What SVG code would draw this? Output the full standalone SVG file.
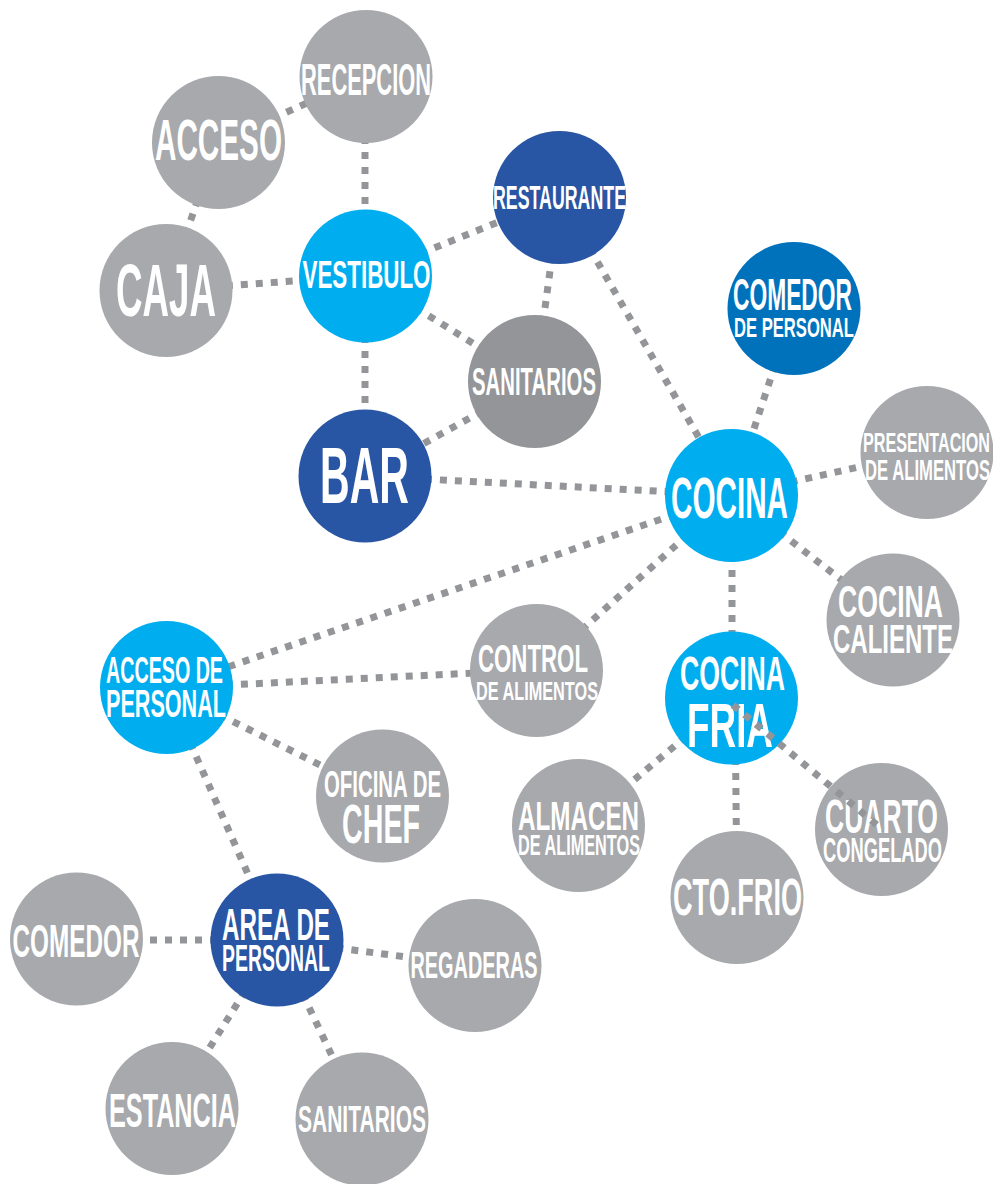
<svg xmlns="http://www.w3.org/2000/svg" width="993" height="1184" viewBox="0 0 993 1184">
<style>
.c{stroke:#939598;stroke-width:7;stroke-dasharray:7 8;fill:none}
.g{fill:#A7A9AC}
.g2{fill:#939598}
.lb{fill:#00AEEF}
.db{fill:#2855A4}
.mb{fill:#0072BC}
text{fill:#fff;font-family:"Liberation Sans Narrow","Liberation Sans",Arial,sans-serif;font-weight:bold;text-anchor:middle}
</style>
<rect width="993" height="1184" fill="#fff"/>
<g id="connectors">
<line class="c" x1="218" y1="143" x2="365" y2="77"/>
<line class="c" x1="218" y1="143" x2="166" y2="290"/>
<line class="c" x1="365" y1="77" x2="365" y2="276"/>
<line class="c" x1="166" y1="290" x2="365" y2="276"/>
<line class="c" x1="365" y1="276" x2="560" y2="197"/>
<line class="c" x1="365" y1="276" x2="535" y2="382"/>
<line class="c" x1="365" y1="276" x2="365" y2="476"/>
<line class="c" x1="560" y1="197" x2="535" y2="382"/>
<line class="c" x1="535" y1="382" x2="365" y2="476"/>
<line class="c" x1="560" y1="197" x2="732" y2="495"/>
<line class="c" x1="365" y1="476" x2="732" y2="495"/>
<line class="c" x1="794" y1="308" x2="732" y2="495"/>
<line class="c" x1="732" y1="495" x2="927" y2="452"/>
<line class="c" x1="732" y1="495" x2="893" y2="620"/>
<line class="c" x1="732" y1="495" x2="732" y2="698"/>
<line class="c" x1="732" y1="495" x2="537" y2="670"/>
<line class="c" x1="732" y1="495" x2="166" y2="688"/>
<line class="c" x1="166" y1="688" x2="537" y2="670"/>
<line class="c" x1="166" y1="688" x2="382" y2="796"/>
<line class="c" x1="166" y1="688" x2="277" y2="940"/>
<line class="c" x1="732" y1="698" x2="579" y2="826"/>
<line class="c" x1="735" y1="698" x2="737" y2="897"/>
<line class="c" x1="277" y1="940" x2="77" y2="940"/>
<line class="c" x1="277" y1="940" x2="475" y2="966"/>
<line class="c" x1="277" y1="940" x2="172" y2="1108"/>
<line class="c" x1="277" y1="940" x2="362" y2="1119"/>
</g>
<g id="recepcion"><circle class="g" cx="366" cy="76.5" r="66.5"/><text x="366" y="95" font-size="44" textLength="130" lengthAdjust="spacingAndGlyphs">RECEPCION</text></g>
<g id="acceso"><circle class="g" cx="218.5" cy="142.5" r="66.5"/><text x="218.5" y="160" font-size="58" textLength="127" lengthAdjust="spacingAndGlyphs">ACCESO</text></g>
<g id="caja"><circle class="g" cx="166" cy="290.5" r="66.5"/><text x="166" y="316" font-size="74" textLength="100" lengthAdjust="spacingAndGlyphs">CAJA</text></g>
<g id="vestibulo"><circle class="lb" cx="365.5" cy="276" r="66.5"/><text x="366.5" y="288" font-size="38.5" textLength="128" lengthAdjust="spacingAndGlyphs">VESTIBULO</text></g>
<g id="restaurante"><circle class="db" cx="559.5" cy="197.5" r="66.5"/><text x="559.5" y="209" font-size="33" textLength="133" lengthAdjust="spacingAndGlyphs">RESTAURANTE</text></g>
<g id="sanitarios-1"><circle class="g2" cx="534.5" cy="381.5" r="66.5"/><text x="534" y="395" font-size="38.5" textLength="124" lengthAdjust="spacingAndGlyphs">SANITARIOS</text></g>
<g id="bar"><circle class="db" cx="365" cy="476" r="66.5"/><text x="364.5" y="503" font-size="79" textLength="89" lengthAdjust="spacingAndGlyphs">BAR</text></g>
<g id="comedor-personal"><circle class="mb" cx="794" cy="308.5" r="66.5"/><text x="792.5" y="310" font-size="44" textLength="119" lengthAdjust="spacingAndGlyphs">COMEDOR</text><text x="794" y="337" font-size="28" textLength="120" lengthAdjust="spacingAndGlyphs">DE PERSONAL</text></g>
<g id="presentacion"><circle class="g" cx="927" cy="452.5" r="66.5"/><text x="926.5" y="452" font-size="27.5" textLength="127" lengthAdjust="spacingAndGlyphs">PRESENTACION</text><text x="927.5" y="480" font-size="29" textLength="125" lengthAdjust="spacingAndGlyphs">DE ALIMENTOS</text></g>
<g id="cocina"><circle class="lb" cx="731.5" cy="495.5" r="66.5"/><text x="729.5" y="518" font-size="58" textLength="117" lengthAdjust="spacingAndGlyphs">COCINA</text></g>
<g id="cocina-caliente"><circle class="g" cx="893" cy="620" r="66.5"/><text x="890.5" y="617" font-size="45" textLength="105" lengthAdjust="spacingAndGlyphs">COCINA</text><text x="893" y="653" font-size="40.5" textLength="120" lengthAdjust="spacingAndGlyphs">CALIENTE</text></g>
<g id="control"><circle class="g" cx="536.5" cy="670.5" r="66.5"/><text x="533" y="672" font-size="38.5" textLength="110" lengthAdjust="spacingAndGlyphs">CONTROL</text><text x="537" y="700" font-size="26" textLength="122" lengthAdjust="spacingAndGlyphs">DE ALIMENTOS</text></g>
<g id="acceso-personal"><circle class="lb" cx="166.5" cy="687.5" r="66.5"/><text x="164.5" y="683" font-size="36.5" textLength="117" lengthAdjust="spacingAndGlyphs">ACCESO DE</text><text x="166" y="717" font-size="38.5" textLength="120" lengthAdjust="spacingAndGlyphs">PERSONAL</text></g>
<g id="oficina-chef"><circle class="g" cx="382.5" cy="796" r="66.5"/><text x="382.5" y="797" font-size="37.5" textLength="117" lengthAdjust="spacingAndGlyphs">OFICINA DE</text><text x="381" y="843" font-size="55" textLength="78" lengthAdjust="spacingAndGlyphs">CHEF</text></g>
<g id="cocina-fria"><circle class="lb" cx="731.5" cy="698" r="66.5"/><text x="732.5" y="690" font-size="48" textLength="105" lengthAdjust="spacingAndGlyphs">COCINA</text><text x="730" y="747" font-size="62.5" textLength="86" lengthAdjust="spacingAndGlyphs">FRIA</text></g>
<g id="almacen"><circle class="g" cx="578.5" cy="825.5" r="66.5"/><text x="578.5" y="830" font-size="40.5" textLength="121" lengthAdjust="spacingAndGlyphs">ALMACEN</text><text x="579" y="855" font-size="29" textLength="122" lengthAdjust="spacingAndGlyphs">DE ALIMENTOS</text></g>
<g id="cuarto-congelado"><circle class="g" cx="881.5" cy="829.5" r="66.5"/><text x="881.5" y="833" font-size="48" textLength="113" lengthAdjust="spacingAndGlyphs">CUARTO</text><text x="882.5" y="862" font-size="34.5" textLength="119" lengthAdjust="spacingAndGlyphs">CONGELADO</text></g>
<g id="cto-frio"><circle class="g" cx="737" cy="897.5" r="66.5"/><text x="737.5" y="915" font-size="51" textLength="129" lengthAdjust="spacingAndGlyphs">CTO.FRIO</text></g>
<g id="comedor"><circle class="g" cx="76.5" cy="939" r="66.5"/><text x="76" y="957" font-size="46" textLength="127" lengthAdjust="spacingAndGlyphs">COMEDOR</text></g>
<g id="area-personal"><circle class="db" cx="277" cy="940" r="66.5"/><text x="276" y="940" font-size="45" textLength="108" lengthAdjust="spacingAndGlyphs">AREA DE</text><text x="276" y="971" font-size="36.5" textLength="108" lengthAdjust="spacingAndGlyphs">PERSONAL</text></g>
<g id="regaderas"><circle class="g" cx="475" cy="965.5" r="66.5"/><text x="474" y="978" font-size="36.5" textLength="127" lengthAdjust="spacingAndGlyphs">REGADERAS</text></g>
<g id="estancia"><circle class="g" cx="172" cy="1108.5" r="66.5"/><text x="172.5" y="1127" font-size="48" textLength="127" lengthAdjust="spacingAndGlyphs">ESTANCIA</text></g>
<g id="sanitarios-2"><circle class="g" cx="362" cy="1119" r="66.5"/><text x="362" y="1132" font-size="36.5" textLength="128" lengthAdjust="spacingAndGlyphs">SANITARIOS</text></g>
<g id="connectors-top">
<line class="c" x1="733" y1="705" x2="883" y2="830"/>
</g>
</svg>
